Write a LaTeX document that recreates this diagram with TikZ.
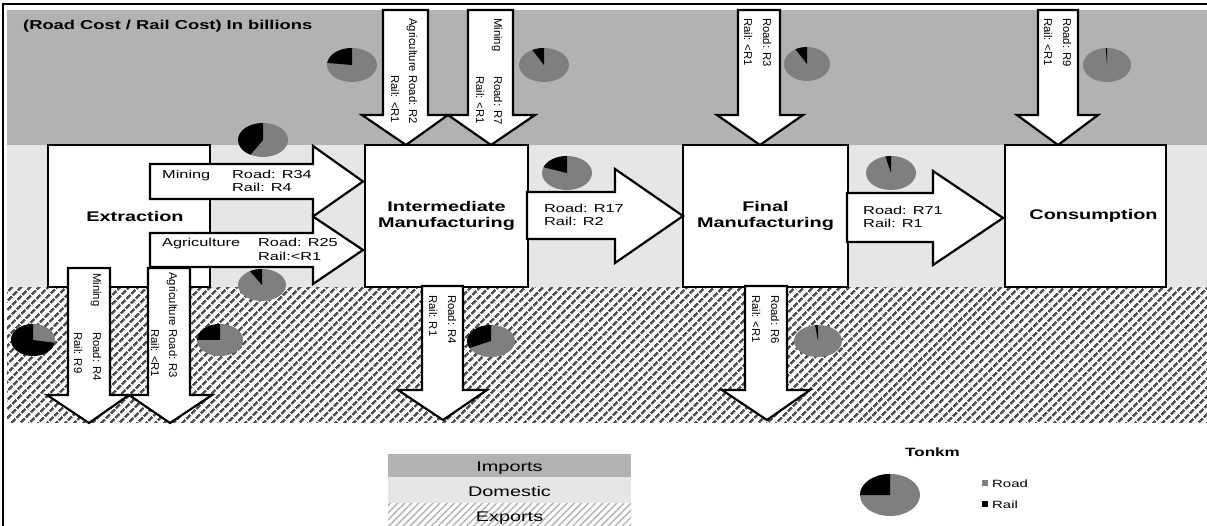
\documentclass[tikz,border=0pt]{standalone}
\usepackage{fontspec}
\usepackage{graphicx}
\setmainfont{Liberation Sans}
\newfontfamily\rotfont{Liberation Sans}
\usetikzlibrary{patterns.meta}
\definecolor{impgray}{HTML}{B2B2B2}
\definecolor{domgray}{HTML}{E6E6E6}
\definecolor{piegray}{HTML}{7F7F7F}
\definecolor{stripe}{HTML}{505050}
\newcommand{\sx}[1]{\scalebox{1.42}[1]{#1}}
\newcommand{\mypie}[5]{%
  \fill[piegray] (#1,#2) ellipse [x radius=#3, y radius=#4];
  \fill[black] (#1,#2) -- ++(0,#4) arc[start angle=90, end angle=#5, x radius=#3, y radius=#4] -- cycle;}
% horizontal block arrow: x0 x1 xtip ys1 ys2 yh1 yh2 ytip
\newcommand{\harr}[8]{\draw[blk] (#1,#4) -- (#2,#4) -- (#2,#6) -- (#3,#8) -- (#2,#7) -- (#2,#5) -- (#1,#5) -- cycle;}
% vertical block arrow: xs1 xs2 y0 y1 xh1 xh2 xtip ytip
\newcommand{\varr}[8]{\draw[blk] (#1,#3) -- (#2,#3) -- (#2,#4) -- (#6,#4) -- (#7,#8) -- (#5,#4) -- (#1,#4) -- cycle;}
\begin{document}
\begin{tikzpicture}[x=1pt,y=1pt,
  box/.style={draw=black, line width=2.2pt, fill=white, inner sep=0pt,
    font=\bfseries\fontsize{14}{16}\selectfont, align=center},
  blk/.style={draw=black, line width=2.2pt, fill=white, line join=miter},
  lbl/.style={inner sep=0pt, anchor=base west, font=\fontsize{11.5}{13.5}\selectfont},
  rlbl/.style={inner sep=0pt, anchor=base west, rotate=-90, font=\rotfont\fontsize{11.3}{13}\selectfont},
  legtxt/.style={font=\fontsize{14}{16}\selectfont, inner sep=0pt},
  stripes/.style={pattern={Lines[angle=45,distance=6.4pt,line width=2.7pt]}, pattern color=stripe},
]
\useasboundingbox (0,0) rectangle (1207,-526);
\fill[white] (0,0) rectangle (1207,-526);
% bands
\fill[impgray] (7,-10) rectangle (1207,-145);
\fill[domgray] (7,-145) rectangle (1207,-288);
\fill[stripes] (7,-288) rectangle (1207,-422);
\draw[line width=1.6pt] (3,-526) -- (3,-4) -- (1207,-4);
% title
\node[font=\bfseries\fontsize{12.9}{15}\selectfont, anchor=base west, inner sep=0pt] (title) at (23,-29.5) {\sx{(Road Cost / Rail Cost) In billions}};
% pies
\mypie{352}{-65}{25}{17}{173}
\mypie{544}{-65}{25}{17}{118}
\mypie{807}{-64}{23}{17}{120}
\mypie{1107}{-65}{24}{17}{93}
\mypie{263}{-140}{25}{17}{240}
\mypie{262}{-285}{24}{16}{120}
\mypie{567}{-173}{25}{17}{160}
\mypie{891}{-173}{25}{17}{103}
\mypie{33}{-340}{22}{16}{350}
\mypie{220}{-340}{23}{16}{180}
\mypie{491}{-341}{24}{16}{206}
\mypie{818}{-341}{24}{16}{97}
% boxes
\node[box, minimum width=162pt, minimum height=142pt] (ext) at (129,-216) {\hspace*{12pt}\sx{Extraction}};
\node[box, minimum width=163pt, minimum height=142pt] (int) at (446.5,-216) {\sx{Intermediate}\\\sx{Manufacturing}};
\node[box, minimum width=165pt, minimum height=142pt] (fin) at (765.5,-216) {\sx{Final}\\\sx{Manufacturing}};
\node[box, minimum width=161pt, minimum height=142pt] (con) at (1085.5,-216) {\hspace*{16pt}\sx{Consumption}};
% horizontal arrows
\harr{150}{313}{363}{-164}{-199}{-146}{-216.5}{-181.5}
\harr{150}{313}{363}{-233}{-267}{-216.5}{-284}{-250}
\harr{527}{615}{683}{-192}{-239}{-169}{-263}{-216}
\harr{847}{933}{1003}{-193}{-242}{-171}{-265}{-218}
% import arrows
\varr{383}{428}{-10}{-115}{362}{448}{406}{-145}
\varr{468}{513}{-10}{-115}{448}{535}{491}{-145}
\varr{738}{780}{-10}{-115}{717}{803}{760}{-145}
\varr{1038}{1078}{-10}{-115}{1017}{1098}{1058}{-145}
% export arrows
\varr{68}{110}{-268}{-395}{47}{129}{89}{-423}
\varr{148}{190}{-268}{-395}{129}{212}{170}{-423}
\varr{422}{463}{-286}{-390}{398}{487}{443}{-420}
\varr{745}{787}{-286}{-390}{722}{810}{767}{-420}
% horizontal labels
\node[lbl] (hm0) at (162,-179) {\sx{Mining}};
\node[lbl] (hm1) at (232,-179) {\sx{Road: R34}};
\node[lbl] (hm2) at (232,-192) {\sx{Rail: R4}};
\node[lbl] (ha0) at (162,-247) {\sx{Agriculture}};
\node[lbl] (ha1) at (258,-247) {\sx{Road: R25}};
\node[lbl] (ha2) at (258,-261) {\sx{Rail:<R1}};
\node[lbl] (if1) at (544,-213) {\sx{Road: R17}};
\node[lbl] (if2) at (544,-226) {\sx{Rail: R2}};
\node[lbl] (fc1) at (863,-215) {\sx{Road: R71}};
\node[lbl] (fc2) at (863,-228) {\sx{Rail: R1}};
% rotated labels (imports)
\node[rlbl] (ia1) at (409,-18) {Agriculture Road: R2};
\node[rlbl] (ia2) at (391,-18) {\phantom{Agriculture }Rail: <R1};
\node[rlbl] (im1) at (494,-18) {Mining};
\node[rlbl] (im2) at (494,-76) {Road: R7};
\node[rlbl] (im3) at (476,-76) {Rail: <R1};
\node[rlbl] (if3) at (763,-18) {Road: R3};
\node[rlbl] (if4) at (744,-18) {Rail: <R1};
\node[rlbl] (ic1) at (1063,-18) {Road: R9};
\node[rlbl] (ic2) at (1044,-18) {Rail: <R1};
% rotated labels (exports)
\node[rlbl] (em1) at (93,-273) {Mining};
\node[rlbl] (em2) at (93,-332) {Road: R4};
\node[rlbl] (em3) at (74,-332) {Rail: R9};
\node[rlbl] (ea1) at (169,-272) {Agriculture Road: R3};
\node[rlbl] (ea2) at (151,-272) {\phantom{Agriculture }Rail: <R1};
\node[rlbl] (ie1) at (448,-295) {Road: R4};
\node[rlbl] (ie2) at (429,-295) {Rail: R1};
\node[rlbl] (fe1) at (771,-295) {Road: R6};
\node[rlbl] (fe2) at (752,-295) {Rail: <R1};
% legend bands
\fill[impgray] (388,-454) rectangle (631,-477);
\fill[domgray] (388,-477) rectangle (631,-503);
\fill[pattern={Lines[angle=45,distance=5pt,line width=1.4pt]}, pattern color=black!30] (388,-503) rectangle (631,-526);
\node[legtxt, anchor=base] (limp) at (509.5,-471) {\sx{Imports}};
\node[legtxt, anchor=base] (ldom) at (509.5,-496) {\sx{Domestic}};
\node[legtxt, anchor=base] (lexp) at (509.5,-521) {\sx{Exports}};
% legend pie
\node[font=\bfseries\fontsize{12}{14}\selectfont, anchor=base west, inner sep=0pt] (tonkm) at (905,-456) {\sx{Tonkm}};
\mypie{890}{-495}{30}{21}{180}
\fill[piegray] (982,-480) rectangle (988,-486);
\fill[black] (982,-501) rectangle (988,-507);
\node[font=\fontsize{10.5}{12}\selectfont, anchor=base west, inner sep=0pt] (lroad) at (992,-487) {\sx{Road}};
\node[font=\fontsize{10.5}{12}\selectfont, anchor=base west, inner sep=0pt] (lrail) at (992,-508) {\sx{Rail}};
\end{tikzpicture}
\end{document}
